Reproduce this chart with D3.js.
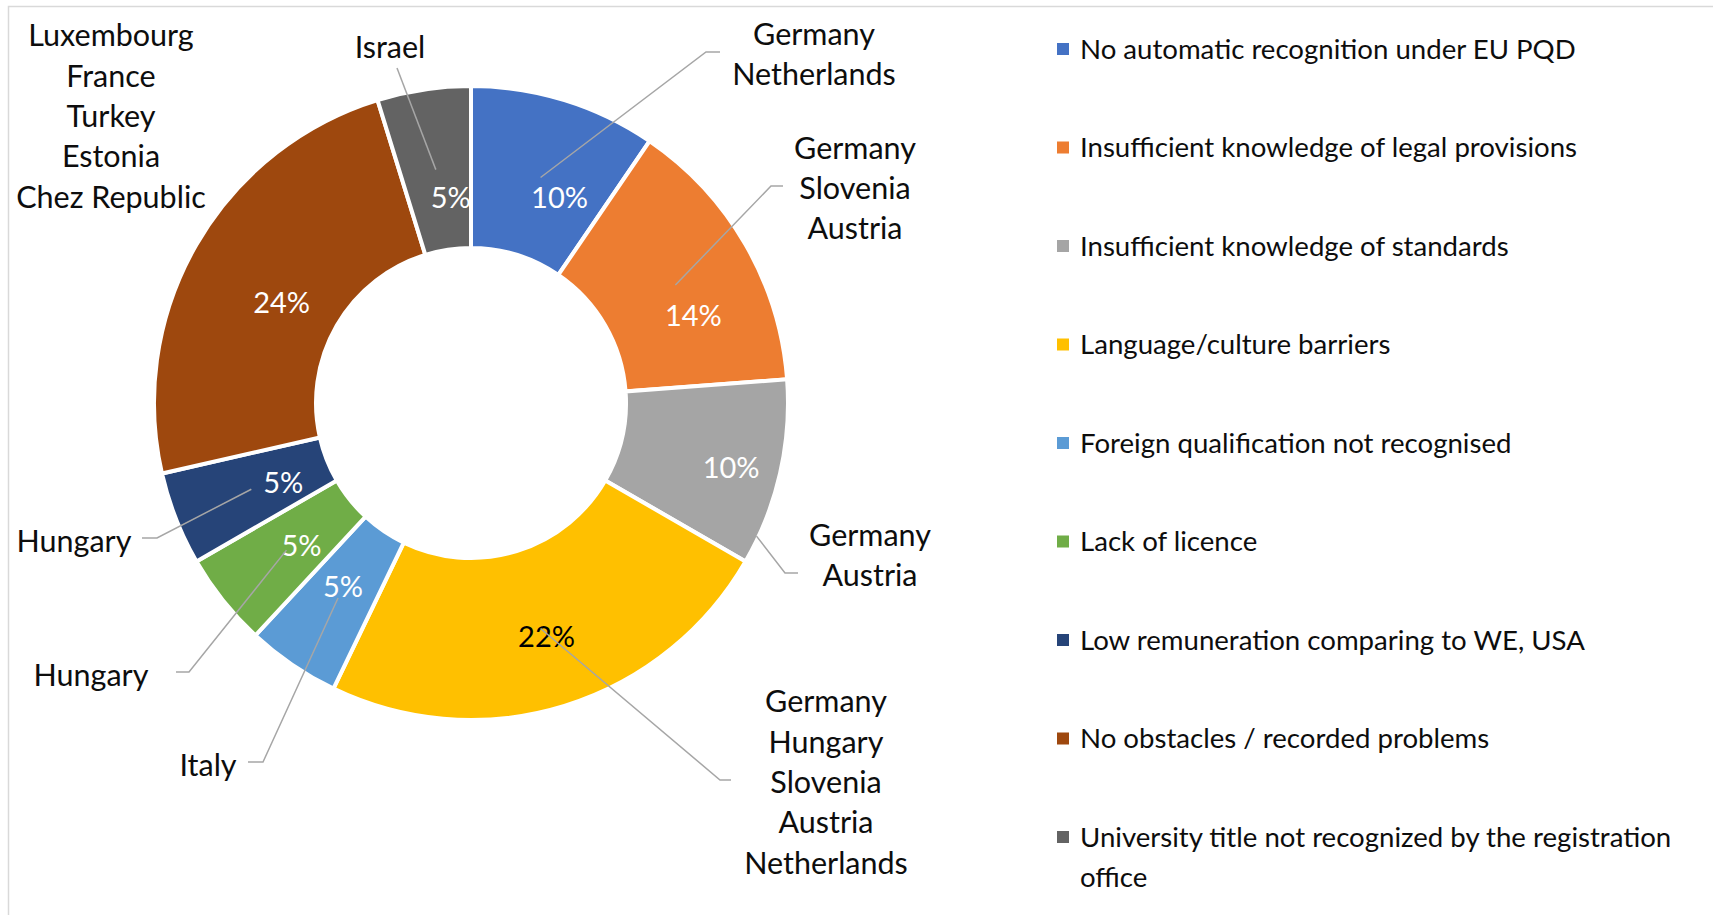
<!DOCTYPE html>
<html>
<head>
<meta charset="utf-8">
<script src="https://cdn.jsdelivr.net/npm/d3@7"></script>
<style>
  html, body { margin: 0; padding: 0; background: #fff; }
  svg { display: block; font-family: Lato, "Open Sans", sans-serif; }
</style>
</head>
<body>
<svg id="chart" width="1713" height="915"></svg>
<script>
// ---- data ----
const categories = [
  'No automatic recognition under EU PQD',
  'Insufficient knowledge of legal provisions',
  'Insufficient knowledge of standards',
  'Language/culture barriers',
  'Foreign qualification not recognised',
  'Lack of licence',
  'Low remuneration comparing to WE, USA',
  'No obstacles / recorded problems',
  'University title not recognized by the registration office'
];
const responses = [2, 3, 2, 5, 1, 1, 1, 5, 1];
const pctLabels = ['10%', '14%', '10%', '22%', '5%', '5%', '5%', '24%', '5%'];
const countries = [
  ['Germany', 'Netherlands'],
  ['Germany', 'Slovenia', 'Austria'],
  ['Germany', 'Austria'],
  ['Germany', 'Hungary', 'Slovenia', 'Austria', 'Netherlands'],
  ['Italy'],
  ['Hungary'],
  ['Hungary'],
  ['Luxembourg', 'France', 'Turkey', 'Estonia', 'Chez Republic'],
  ['Israel']
];
const colors = ['#4472C4', '#ED7D31', '#A5A5A5', '#FFC000', '#5B9BD5', '#70AD47', '#264478', '#9E480E', '#636363'];

// ---- layout ----
const cx = 471, cy = 403, rOuter = 317, rInner = 155;
const fontPct = 29, fontCountry = 30.5, fontLegend = 27.6, lineH = 40.4;

// nudges of the % labels from the slice centroid (labels moved by hand in the original)
const pctNudge = [[19, 20], [18, 31], [30, 12], [6, 8], [5, -11], [15, -5], [32, -7], [15, 18], [15, 28]];

// country label boxes and leader lines
const deg = Math.PI / 180;
const countryLayout = [
  { x: 814, y: 54, elbow: [706, 52], end: [720, 52] },
  { x: 855, y: 188, elbow: [771, 186], end: [783, 186] },
  { x: 870, y: 555, elbow: [785, 573], end: [798, 573], tipAngle: 115 },
  { x: 826, y: 782, elbow: [720, 780], end: [731, 780] },
  { x: 208, y: 765, elbow: [263, 762], end: [248, 762] },
  { x: 91, y: 675, elbow: [189, 672], end: [176, 672] },
  { x: 74, y: 541, elbow: [157, 538], end: [142, 538] },
  { x: 111, y: 116 },
  { x: 390, y: 47, end: [397, 68] }
];

const svg = d3.select('#chart');

// chart frame
svg.append('rect')
  .attr('x', 8.5).attr('y', 6.5)
  .attr('width', 1800).attr('height', 1000)
  .attr('fill', 'none')
  .attr('stroke', '#d9d9d9')
  .attr('stroke-width', 1.5);

const pie = d3.pie().sort(null).value(d => d);
const arc = d3.arc().innerRadius(rInner).outerRadius(rOuter);
const arcs = pie(responses);

const g = svg.append('g').attr('transform', `translate(${cx},${cy})`);

g.selectAll('path.slice')
  .data(arcs)
  .join('path')
  .attr('class', 'slice')
  .attr('d', arc)
  .attr('fill', (d, i) => colors[i])
  .attr('stroke', '#fff')
  .attr('stroke-width', 4);

// leader lines
const leaders = svg.append('g')
  .attr('fill', 'none')
  .attr('stroke', '#a6a6a6')
  .attr('stroke-width', 1.5);

arcs.forEach((d, i) => {
  const L = countryLayout[i];
  if (!L.end) return;
  let tip;
  if (L.tipAngle) {
    const p = d3.pointRadial(L.tipAngle * deg, rOuter - 2);
    tip = [cx + p[0], cy + p[1]];
  } else {
    const c = arc.centroid(d);
    tip = [cx + c[0], cy + c[1]];
  }
  const pts = [tip];
  if (L.elbow) pts.push(L.elbow);
  pts.push(L.end);
  leaders.append('path').attr('d', d3.line()(pts));
});

// percentage labels
g.selectAll('text.pct')
  .data(arcs)
  .join('text')
  .attr('class', 'pct')
  .attr('x', (d, i) => arc.centroid(d)[0] + pctNudge[i][0])
  .attr('y', (d, i) => arc.centroid(d)[1] + pctNudge[i][1])
  .attr('dy', '0.36em')
  .attr('text-anchor', 'middle')
  .attr('font-size', fontPct)
  .attr('fill', (d, i) => i === 3 ? '#000' : '#fff')
  .text((d, i) => pctLabels[i]);

// country labels
countries.forEach((lines, i) => {
  const L = countryLayout[i];
  const t = svg.append('text')
    .attr('text-anchor', 'middle')
    .attr('font-size', fontCountry)
    .attr('fill', '#0d0d0d');
  const y0 = L.y - (lines.length - 1) * lineH / 2;
  lines.forEach((s, k) => {
    t.append('tspan')
      .attr('x', L.x)
      .attr('y', y0 + k * lineH)
      .attr('dy', '0.36em')
      .text(s);
  });
});

// legend
const legX = 1057, legTextX = 1080, legY0 = 49, legStep = 98.5, legMaxW = 615;
const legend = svg.append('g');
categories.forEach((c, i) => {
  const y = legY0 + i * legStep;
  legend.append('rect')
    .attr('x', legX).attr('y', y - 6)
    .attr('width', 12).attr('height', 12)
    .attr('fill', colors[i]);
  const t = legend.append('text')
    .attr('font-size', fontLegend)
    .attr('fill', '#0d0d0d');
  // simple word wrap
  const words = c.split(' ');
  let line = [], k = 0;
  let ts = t.append('tspan').attr('x', legTextX).attr('y', y).attr('dy', '0.36em');
  words.forEach(w => {
    line.push(w);
    ts.text(line.join(' '));
    if (ts.node().getComputedTextLength() > legMaxW && line.length > 1) {
      line.pop();
      ts.text(line.join(' '));
      line = [w];
      k++;
      ts = t.append('tspan').attr('x', legTextX).attr('y', y + k * lineH).attr('dy', '0.36em').text(w);
    }
  });
});
</script>
</body>
</html>
